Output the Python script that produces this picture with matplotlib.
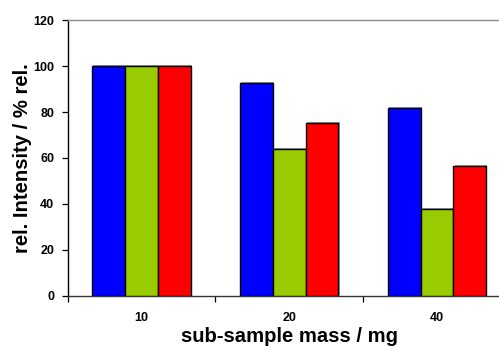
import matplotlib
matplotlib.use("Agg")
import matplotlib.pyplot as plt
import matplotlib.patheffects as pe
import numpy as np

plt.rcParams['font.family'] = ['Liberation Sans', 'DejaVu Sans']

masses = ["10", "20", "40"]
series_a = [100.0, 92.5, 81.7]   # blue
series_b = [100.0, 63.8, 37.6]   # green
series_c = [100.0, 75.1, 56.4]   # red
colors = ["#0000FF", "#99CC00", "#FF0000"]
yticks = [0, 20, 40, 60, 80, 100, 120]

W, H = 499, 347
fig = plt.figure(figsize=(W / 100, H / 100), dpi=100)
left, right = 67.5, 511.0
top, bottom = 20.3, 295.7
ax = fig.add_axes([left / W, 1 - bottom / H, (right - left) / W, (bottom - top) / H])

x = np.arange(len(masses)) + 0.5
bw = 0.222
shadow = [pe.SimplePatchShadow(offset=(0.8, 0.8), shadow_rgbFace="#9a9a9a", alpha=1.0),
          pe.Normal()]
for i, (vals, c) in enumerate(zip([series_a, series_b, series_c], colors)):
    bars = ax.bar(x + (i - 1) * bw, vals, width=bw, color=c, edgecolor="black",
                  linewidth=1.0, zorder=3)
    for b in bars:
        b.set_path_effects(shadow)

ax.set_xlim(0, 3)
ax.set_ylim(0, 120)
ax.set_yticks(yticks)
ax.set_yticklabels([str(v) for v in yticks], fontsize=9, fontweight="bold")
ax.set_xticks(x)
ax.set_xticklabels(masses, fontsize=9, fontweight="bold")
ax.tick_params(axis="x", which="major", length=0, pad=12)
ax.set_xticks([0, 1, 2, 3], minor=True)
ax.tick_params(axis="x", which="minor", length=4, width=0.9, direction="out")
ax.tick_params(axis="y", length=4.5, width=0.9, direction="out", pad=5)

ax.spines["top"].set_color("#8c8c8c")
ax.spines["top"].set_linewidth(1.0)
ax.spines["right"].set_visible(False)
ax.spines["left"].set_linewidth(1.0)
ax.spines["bottom"].set_linewidth(1.0)
ax.spines["bottom"].set_color("#333333")

ax.set_xlabel("sub-sample mass / mg", fontsize=14.6, fontweight="bold", labelpad=2)
ax.set_ylabel("rel. Intensity / % rel.", fontsize=14.6, fontweight="bold")
ax.yaxis.set_label_coords(-0.080, 0.5)

fig.savefig("out.png", dpi=100)
